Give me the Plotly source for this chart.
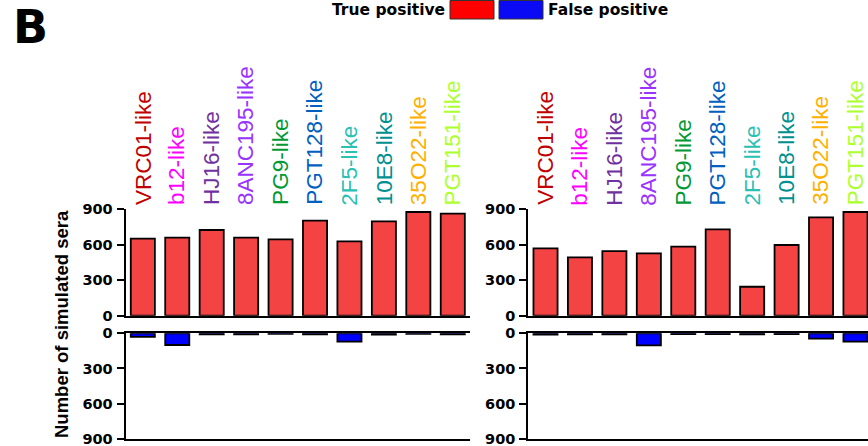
import plotly.graph_objects as go

# ---------------- data ----------------
categories = ["VRC01-like", "b12-like", "HJ16-like", "8ANC195-like", "PG9-like",
              "PGT128-like", "2F5-like", "10E8-like", "35O22-like", "PGT151-like"]
label_colors = ["#C00000", "#FF00FF", "#7030A0", "#9933FF", "#009933",
                "#0060C0", "#2BC0B4", "#009090", "#FFB000", "#ADFF2F"]

left_true_pos = [652, 660, 725, 660, 646, 804, 629, 798, 877, 863]
left_false_pos = [31, 100, 8, 8, 5, 8, 71, 11, 5, 8]
right_true_pos = [570, 494, 547, 528, 584, 731, 245, 598, 832, 877]
right_false_pos = [11, 8, 8, 103, 6, 6, 8, 6, 46, 71]

y_ticks = [0, 300, 600, 900]
legend_names = ["True positive", "False positive"]

# ---------------- style ----------------
W, H = 868, 446
TP_COLOR = "#F44343"
FP_COLOR = "#0000FF"
TP_LEG = "#FF0000"
FP_LEG = "#0A0AF5"


def px(x):
    return x / W


def py(y):
    return 1 - y / H


LEFT_DOM = [px(125.6), px(470)]
RIGHT_DOM = [px(528.3), 1.0]
UP_DOM = [py(315.7), py(209.3)]
LOW_DOM = [py(438.7), py(333.3)]
pitch = (470 - 125.6) / 10.0
right_max = -0.5 + (868 - 528.3) / pitch

fig = go.Figure()

panels = [
    ("x", "y", left_true_pos, TP_COLOR),
    ("x2", "y2", left_false_pos, FP_COLOR),
    ("x3", "y3", right_true_pos, TP_COLOR),
    ("x4", "y4", right_false_pos, FP_COLOR),
]
for xa, ya, vals, col in panels:
    fig.add_trace(go.Bar(
        x=categories, y=vals, xaxis=xa, yaxis=ya, width=0.7,
        marker=dict(color=col, line=dict(color="black", width=1.8)),
        showlegend=False, hoverinfo="x+y",
    ))

tick_font = dict(family="DejaVu Sans", size=14.5, color="black", weight="bold")

common_x = dict(type="category", showgrid=False, zeroline=False, showticklabels=False,
                ticks="", showline=True, linecolor="black", linewidth=2, automargin=False,
                categoryorder="array", categoryarray=categories)
common_y = dict(showgrid=False, zeroline=False, showline=True, linecolor="black",
                linewidth=2, ticks="outside", ticklen=7, tickwidth=2, tickcolor="black",
                tickvals=y_ticks, ticktext=[str(v) for v in y_ticks], tickfont=tick_font,
                ticklabelstandoff=1, automargin=False, ticklabeloverflow="allow")

fig.update_layout(
    width=W, height=H,
    margin=dict(l=0, r=0, t=0, b=0, pad=0, autoexpand=False),
    paper_bgcolor="white", plot_bgcolor="white",
    bargap=0.3,
    xaxis=dict(domain=LEFT_DOM, range=[-0.5, 9.5], anchor="y", **common_x),
    xaxis2=dict(domain=LEFT_DOM, range=[-0.5, 9.5], anchor="y2", side="top", mirror=True, **common_x),
    xaxis3=dict(domain=RIGHT_DOM, range=[-0.5, right_max], anchor="y3", **common_x),
    xaxis4=dict(domain=RIGHT_DOM, range=[-0.5, right_max], anchor="y4", side="top", mirror=True, **common_x),
    yaxis=dict(domain=UP_DOM, range=[0, 900], anchor="x", **common_y),
    yaxis2=dict(domain=LOW_DOM, range=[900, 0], anchor="x2", **common_y),
    yaxis3=dict(domain=UP_DOM, range=[0, 900], anchor="x3", **common_y),
    yaxis4=dict(domain=LOW_DOM, range=[900, 0], anchor="x4", **common_y),
)

annotations = []
# category labels above each upper panel
for xref in ["x", "x3"]:
    for cat, col in zip(categories, label_colors):
        annotations.append(dict(
            x=cat, xref=xref, y=UP_DOM[1], yref="paper", yshift=2,
            text=cat, textangle=-90, showarrow=False,
            xanchor="center", yanchor="bottom",
            font=dict(family="Liberation Sans, Arial", size=22.5, color=col),
        ))

# y-axis title
annotations.append(dict(
    x=px(61), y=py(324), xref="paper", yref="paper", text="Number of simulated sera",
    textangle=-90, showarrow=False, xanchor="center", yanchor="middle",
    font=dict(family="Liberation Sans, Arial", size=18.5, color="black", weight="bold"),
))

# panel letter
annotations.append(dict(
    x=px(30.5), y=py(27), xref="paper", yref="paper", text="B", showarrow=False,
    xanchor="center", yanchor="middle",
    font=dict(family="DejaVu Sans", size=46, color="black", weight="bold"),
))

# legend texts
legend_font = dict(family="DejaVu Sans", size=15.5, color="black", weight="bold")
annotations.append(dict(
    x=px(447), y=py(10), xref="paper", yref="paper", text=legend_names[0], showarrow=False,
    xanchor="right", yanchor="middle", font=legend_font,
))
annotations.append(dict(
    x=px(546), y=py(10), xref="paper", yref="paper", text=legend_names[1], showarrow=False,
    xanchor="left", yanchor="middle", font=legend_font,
))
fig.update_layout(annotations=annotations)

# legend swatches
fig.add_shape(type="rect", xref="paper", yref="paper", x0=px(450), x1=px(494), y0=py(19), y1=py(0.5),
              fillcolor=TP_LEG, line=dict(color="#333333", width=1))
fig.add_shape(type="rect", xref="paper", yref="paper", x0=px(499), x1=px(543), y0=py(19), y1=py(0.5),
              fillcolor=FP_LEG, line=dict(color="#333333", width=1))

fig.write_html(
    "out.html",
    config={"displayModeBar": False},
    post_script="document.body.style.margin='0';document.body.style.overflow='hidden';",
)
